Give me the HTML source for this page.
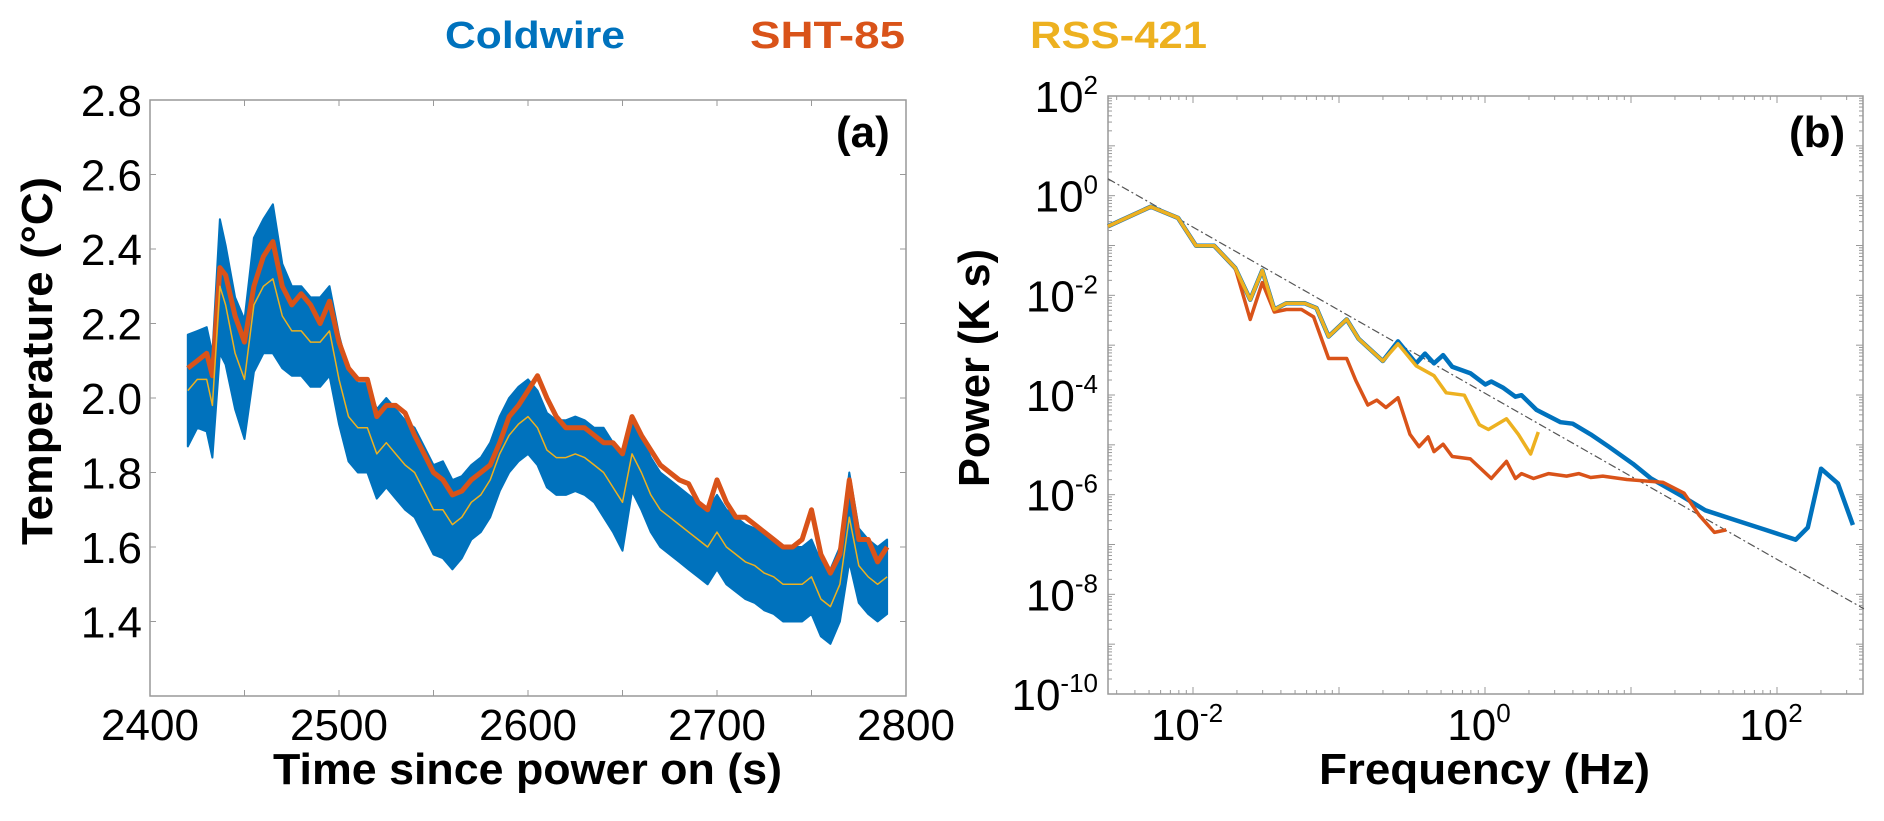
<!DOCTYPE html>
<html><head><meta charset="utf-8"><style>
html,body{margin:0;padding:0;background:#fff;}
svg{display:block;font-family:"Liberation Sans",Arial,sans-serif;}
</style></head><body>
<svg id="fig" width="1884" height="821" viewBox="0 0 1884 821" xmlns="http://www.w3.org/2000/svg">
<g font-weight="bold" font-size="38">
<text x="445" y="48" fill="#0072BD" textLength="180" lengthAdjust="spacingAndGlyphs">Coldwire</text>
<text x="750" y="48" fill="#D95319" textLength="155" lengthAdjust="spacingAndGlyphs">SHT-85</text>
<text x="1030" y="48" fill="#EDB120" textLength="177" lengthAdjust="spacingAndGlyphs">RSS-421</text>
</g>
<g id="pa"></g>
<g id="pb"></g>
</svg>
<script>
// ---------- Panel (a) data ----------
const times = [2420,2425,2430,2433,2437,2440,2445,2450,2455,2460,2465,2470,2475,2480,2485,2490,2495,2500,2505,2510,2515,2520,2525,2530,2535,2540,2545,2550,2555,2560,2565,2570,2575,2580,2585,2590,2595,2600,2605,2610,2615,2620,2625,2630,2635,2640,2645,2650,2655,2660,2665,2670,2675,2680,2685,2690,2695,2700,2705,2710,2715,2720,2725,2730,2735,2740,2745,2750,2755,2760,2765,2770,2775,2780,2785,2790];
const shtTemp = [2.08,2.10,2.12,2.06,2.35,2.33,2.22,2.15,2.30,2.38,2.42,2.30,2.25,2.28,2.25,2.20,2.26,2.15,2.08,2.05,2.05,1.95,1.98,1.98,1.96,1.90,1.85,1.80,1.78,1.74,1.75,1.78,1.80,1.82,1.88,1.95,1.98,2.02,2.06,2.00,1.95,1.92,1.92,1.92,1.90,1.88,1.88,1.85,1.95,1.90,1.86,1.82,1.80,1.78,1.77,1.72,1.70,1.78,1.72,1.68,1.68,1.66,1.64,1.62,1.60,1.60,1.62,1.70,1.58,1.53,1.58,1.78,1.62,1.62,1.56,1.60];
const coldTemp = [2.02,2.05,2.05,1.98,2.30,2.25,2.12,2.05,2.25,2.30,2.32,2.22,2.18,2.18,2.15,2.15,2.18,2.05,1.95,1.92,1.92,1.85,1.88,1.85,1.82,1.80,1.75,1.70,1.70,1.66,1.68,1.72,1.74,1.78,1.85,1.90,1.93,1.95,1.92,1.86,1.84,1.84,1.85,1.84,1.82,1.80,1.76,1.72,1.85,1.80,1.74,1.70,1.68,1.66,1.64,1.62,1.60,1.64,1.60,1.58,1.56,1.55,1.53,1.52,1.50,1.50,1.50,1.52,1.46,1.44,1.50,1.68,1.55,1.52,1.50,1.52];
const coldSpread = [0.15,0.13,0.14,0.14,0.18,0.16,0.15,0.16,0.18,0.18,0.2,0.14,0.12,0.12,0.12,0.12,0.12,0.12,0.12,0.12,0.12,0.12,0.12,0.12,0.12,0.12,0.12,0.12,0.13,0.12,0.11,0.1,0.1,0.1,0.1,0.1,0.1,0.1,0.1,0.1,0.1,0.1,0.1,0.1,0.1,0.12,0.12,0.13,0.1,0.1,0.1,0.1,0.1,0.1,0.1,0.1,0.1,0.1,0.1,0.1,0.1,0.1,0.1,0.1,0.1,0.1,0.1,0.1,0.1,0.1,0.1,0.12,0.1,0.1,0.1,0.1];
const rssTemp = coldTemp;
const xTicksA = [2400,2500,2600,2700,2800];
const yTicksA = [1.4,1.6,1.8,2.0,2.2,2.4,2.6,2.8];

// ---------- Panel (b) data (log10 values) ----------
const coldLogF = [-2.582,-2.289,-2.103,-1.979,-1.855,-1.711,-1.608,-1.525,-1.443,-1.360,-1.236,-1.154,-1.071,-0.947,-0.865,-0.700,-0.596,-0.472,-0.411,-0.349,-0.287,-0.225,-0.101,0.002,0.043,0.126,0.208,0.250,0.353,0.518,0.601,0.724,0.848,1.013,1.137,1.344,1.509,1.715,1.922,2.128,2.211,2.302,2.417,2.520];
const coldLogP = [-0.614,-0.221,-0.447,-1.007,-1.007,-1.450,-2.088,-1.499,-2.285,-2.157,-2.157,-2.256,-2.826,-2.482,-2.875,-3.317,-2.924,-3.366,-3.170,-3.366,-3.199,-3.435,-3.563,-3.789,-3.730,-3.858,-4.034,-4.005,-4.300,-4.545,-4.575,-4.791,-5.037,-5.381,-5.676,-6.020,-6.314,-6.511,-6.708,-6.904,-6.658,-5.479,-5.774,-6.609];
const rssLogF = [-2.582,-2.289,-2.103,-1.979,-1.855,-1.711,-1.608,-1.525,-1.443,-1.360,-1.236,-1.154,-1.071,-0.947,-0.865,-0.700,-0.596,-0.472,-0.349,-0.266,-0.142,-0.039,0.023,0.147,0.229,0.312,0.365];
const rssLogP = [-0.614,-0.221,-0.447,-1.007,-1.007,-1.450,-2.088,-1.499,-2.285,-2.157,-2.157,-2.256,-2.826,-2.482,-2.875,-3.317,-2.973,-3.415,-3.612,-3.956,-4.005,-4.595,-4.693,-4.477,-4.791,-5.184,-4.742];
const shtLogF = [-2.582,-2.289,-2.103,-1.979,-1.855,-1.711,-1.608,-1.525,-1.443,-1.360,-1.257,-1.174,-1.071,-0.947,-0.885,-0.803,-0.741,-0.679,-0.596,-0.514,-0.452,-0.390,-0.349,-0.287,-0.225,-0.101,0.043,0.147,0.208,0.250,0.332,0.436,0.559,0.642,0.724,0.807,0.972,1.220,1.364,1.467,1.571,1.653];
const shtLogP = [-0.614,-0.221,-0.447,-1.007,-1.007,-1.450,-2.482,-1.745,-2.334,-2.285,-2.285,-2.432,-3.268,-3.268,-3.710,-4.201,-4.103,-4.251,-4.054,-4.791,-5.037,-4.840,-5.135,-4.988,-5.234,-5.283,-5.676,-5.332,-5.676,-5.577,-5.676,-5.577,-5.627,-5.577,-5.656,-5.627,-5.695,-5.754,-5.971,-6.413,-6.757,-6.708];
const fitLogF = [-2.582,2.595];
const fitLogP = [0.339,-8.29];
const xTicksB = [-2,0,2];
const yTicksB = [-10,-8,-6,-4,-2,0,2];

const NS="http://www.w3.org/2000/svg";
function mk(parent,tag,attrs){const e=document.createElementNS(NS,tag);for(const k in attrs)e.setAttribute(k,attrs[k]);parent.appendChild(e);return e;}

// ---------- Panel (a) ----------
const A={x0:150,x1:906,y0:100,y1:696};
const xa=v=>A.x0+(v-2400)/400*(A.x1-A.x0);
const ya=v=>A.y1-(v-1.2)/1.6*(A.y1-A.y0);
const pa=document.getElementById('pa');
let fr=mk(pa,'rect',{x:A.x0,y:A.y0,width:A.x1-A.x0,height:A.y1-A.y0,fill:'none',stroke:'#999','stroke-width':1.5});


for(let t=2400;t<=2800;t+=50){
  mk(pa,'line',{x1:xa(t),x2:xa(t),y1:A.y1,y2:A.y1-6,stroke:'#999'});
  mk(pa,'line',{x1:xa(t),x2:xa(t),y1:A.y0,y2:A.y0+6,stroke:'#999'});
}
for(let v=1.2;v<=2.81;v+=0.2){
  mk(pa,'line',{x1:A.x0,x2:A.x0+6,y1:ya(v),y2:ya(v),stroke:'#999'});
  mk(pa,'line',{x1:A.x1,x2:A.x1-6,y1:ya(v),y2:ya(v),stroke:'#999'});
}
xTicksA.forEach(t=>{const e=mk(pa,'text',{x:xa(t),y:740,'font-size':44,'text-anchor':'middle'});e.textContent=t;

});
yTicksA.forEach(v=>{const e=mk(pa,'text',{x:142,y:ya(v)+16,'font-size':44,'text-anchor':'end'});e.textContent=v.toFixed(1);

});
let up='',dn='';
times.forEach((t,i)=>{up+=(i?'L':'M')+xa(t).toFixed(1)+','+ya(coldTemp[i]+coldSpread[i]).toFixed(1);});
for(let i=times.length-1;i>=0;i--){dn+='L'+xa(times[i]).toFixed(1)+','+ya(coldTemp[i]-coldSpread[i]).toFixed(1);}
let be=mk(pa,'path',{d:up+dn+'Z',fill:'#0072BD',stroke:'#0072BD','stroke-width':2,'stroke-linejoin':'round'});


function line(parent,xs,ys,fx,fy,attrs){let d='';xs.forEach((x,i)=>{d+=(i?'L':'M')+fx(x).toFixed(1)+','+fy(ys[i]).toFixed(1);});attrs.d=d;attrs.fill='none';attrs['stroke-linejoin']='round';return mk(parent,'path',attrs);}
let rl=line(pa,times,shtTemp,xa,ya,{stroke:'#D95319','stroke-width':5});


let yl=line(pa,times,rssTemp,xa,ya,{stroke:'#EDB120','stroke-width':1.5});


let la=mk(pa,'text',{x:836,y:147,'font-size':44,'font-weight':'bold'});la.textContent='(a)';


let xt=mk(pa,'text',{x:273,y:784,'font-size':44,'font-weight':'bold',textLength:509,lengthAdjust:'spacingAndGlyphs'});xt.textContent='Time since power on (s)';


let yt=mk(pa,'text',{x:0,y:0,'font-size':44,'font-weight':'bold',textLength:368,lengthAdjust:'spacingAndGlyphs',transform:'translate(52,545) rotate(-90)'});yt.textContent='Temperature (°C)';



// ---------- Panel (b) ----------
const B={x0:1108,x1:1863,y0:96,y1:694};
const xb=l=>1485+l*146;
const yb=l=>B.y1-(l+10)/12*(B.y1-B.y0);
const pb=document.getElementById('pb');
let fb=mk(pb,'rect',{x:B.x0,y:B.y0,width:B.x1-B.x0,height:B.y1-B.y0,fill:'none',stroke:'#999','stroke-width':1.5});


for(let d=-3;d<=2;d++){for(let m=1;m<10;m++){const l=d+Math.log10(m);const x=xb(l);if(x<B.x0||x>B.x1)continue;const L=m==1?7:4;
 mk(pb,'line',{x1:x,x2:x,y1:B.y1,y2:B.y1-L,stroke:'#999'});mk(pb,'line',{x1:x,x2:x,y1:B.y0,y2:B.y0+L,stroke:'#999'});}}
for(let d=-10;d<2;d++){for(let m=1;m<10;m++){const y=yb(d+Math.log10(m));const L=m==1?7:4;
 mk(pb,'line',{x1:B.x0,x2:B.x0+L,y1:y,y2:y,stroke:'#999'});mk(pb,'line',{x1:B.x1,x2:B.x1-L,y1:y,y2:y,stroke:'#999'});}}
xTicksB.forEach(l=>{const e=mk(pb,'text',{x:xb(l)-6,y:740,'font-size':44,'text-anchor':'middle'});e.textContent='10';
const s=mk(e,'tspan',{dy:-18,'font-size':26});s.textContent=String(l);

});
yTicksB.forEach(l=>{const e=mk(pb,'text',{x:1098,y:yb(l)+16,'font-size':44,'text-anchor':'end'});e.textContent='10';
const s=mk(e,'tspan',{dy:-18,'font-size':26});s.textContent=String(l);

});
let fl=line(pb,fitLogF,fitLogP,xb,yb,{stroke:'#555','stroke-width':1.2,'stroke-dasharray':'8 3 2 3'});


let bl=line(pb,coldLogF,coldLogP,xb,yb,{stroke:'#0072BD','stroke-width':4.5});


let rb=line(pb,shtLogF,shtLogP,xb,yb,{stroke:'#D95319','stroke-width':3.5});


let ybl=line(pb,rssLogF,rssLogP,xb,yb,{stroke:'#EDB120','stroke-width':3.5});


let lb=mk(pb,'text',{x:1789,y:147,'font-size':44,'font-weight':'bold'});lb.textContent='(b)';


let xtb=mk(pb,'text',{x:1319,y:784,'font-size':44,'font-weight':'bold',textLength:331,lengthAdjust:'spacingAndGlyphs'});xtb.textContent='Frequency (Hz)';


let ytb=mk(pb,'text',{x:0,y:0,'font-size':44,'font-weight':'bold',textLength:238,lengthAdjust:'spacingAndGlyphs',transform:'translate(989,487) rotate(-90)'});ytb.textContent='Power (K s)';


</script>
</body></html>
